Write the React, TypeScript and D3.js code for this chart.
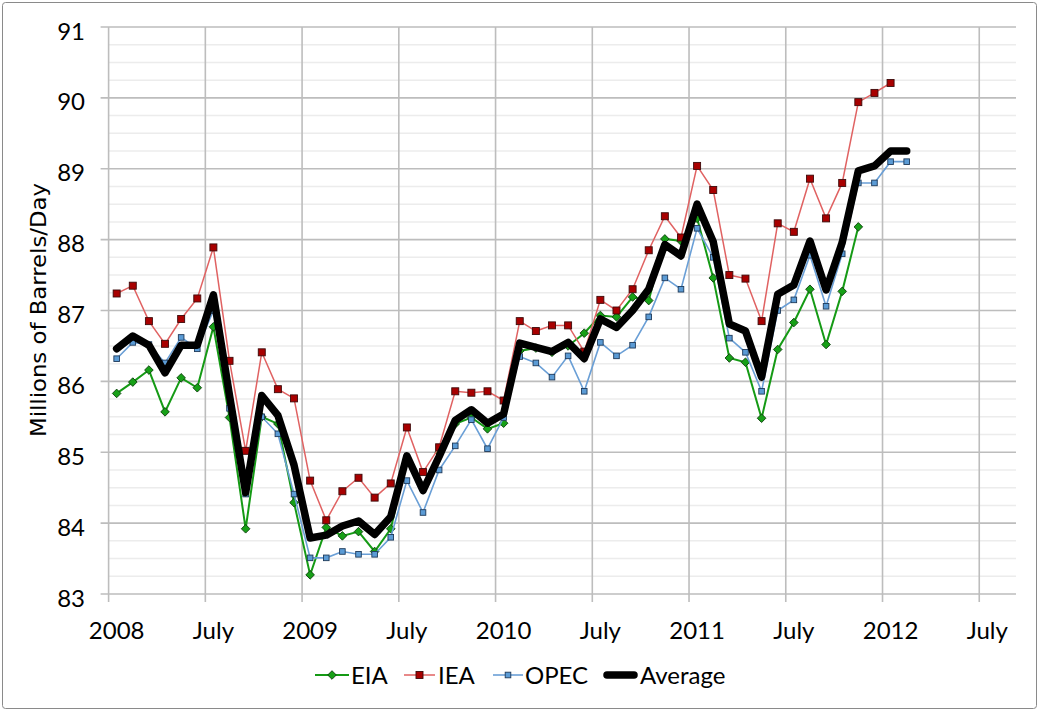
import React from "react";
import * as d3 from "d3";

// Monthly values, Jan 2008 .. Feb 2012 (null = no data)
const eia: (number | null)[] = [
  85.83, 85.99, 86.16, 85.57, 86.05, 85.91, 86.77, 85.49, 83.92, 85.5, 85.4, 84.29,
  83.27, 83.94, 83.82, 83.88, 83.6, 83.92, 84.9, 84.51, 85.0, 85.4, 85.49, 85.33,
  85.41, 86.43, 86.47, 86.41, 86.5, 86.68, 86.93, 86.91, 87.19, 87.14, 88.01, 87.98,
  88.3, 87.46, 86.33, 86.27, 85.48, 86.45, 86.83, 87.3, 86.52, 87.27, 88.18, null,
  null, null,
];
const iea: (number | null)[] = [
  87.24, 87.35, 86.85, 86.53, 86.88, 87.17, 87.89, 86.29, 85.02, 86.41, 85.89, 85.76,
  84.6, 84.04, 84.45, 84.64, 84.36, 84.56, 85.35, 84.72, 85.07, 85.86, 85.84, 85.86,
  85.73, 86.85, 86.71, 86.79, 86.79, 86.42, 87.15, 87.0, 87.3, 87.85, 88.33, 88.03,
  89.04, 88.7, 87.5, 87.45, 86.85, 88.23, 88.11, 88.86, 88.3, 88.8, 89.94, 90.07,
  90.21, null,
];
const opec: (number | null)[] = [
  86.32, 86.55, 86.52, 86.26, 86.62, 86.46, 87.0, 85.62, 84.41, 85.5, 85.26, 84.41,
  83.51, 83.51, 83.6, 83.56, 83.56, 83.8, 84.6, 84.15, 84.75, 85.09, 85.46, 85.05,
  85.49, 86.35, 86.26, 86.06, 86.36, 85.86, 86.55, 86.36, 86.51, 86.91, 87.46, 87.3,
  88.16, 87.75, 86.61, 86.41, 85.86, 87.0, 87.15, 87.78, 87.06, 87.8, 88.8, 88.8,
  89.1, 89.1,
];
const average: (number | null)[] = [
  86.46, 86.64, 86.51, 86.12, 86.51, 86.51, 87.22, 85.8, 84.43, 85.8, 85.52, 84.82,
  83.79, 83.83, 83.96, 84.03, 83.84, 84.09, 84.95, 84.46, 84.94, 85.45, 85.6, 85.41,
  85.54, 86.54, 86.48, 86.42, 86.55, 86.32, 86.88, 86.76, 87.0, 87.3, 87.93, 87.77,
  88.5, 87.97, 86.81, 86.71, 86.06, 87.23, 87.36, 87.98, 87.29, 87.96, 88.97, 89.04,
  89.25, 89.25,
];
const xTickMonths = [0, 6, 12, 18, 24, 30, 36, 42, 48, 54];
const xTickLabels = ["2008", "July", "2009", "July", "2010", "July", "2011", "July", "2012", "July"];
const yTicks = [83, 84, 85, 86, 87, 88, 89, 90, 91];
const legendNames = ["EIA", "IEA", "OPEC", "Average"];

const W = 1039;
const H = 711;
const left = 108.6;
const right = 1011.5;
const gridRight = 1016;
const top = 27;
const bottom = 594;
const FONT = "Lato, 'Open Sans', sans-serif";

const x = d3.scaleLinear().domain([0, 56]).range([left, right]);
const y = d3.scaleLinear().domain([83, 91]).range([bottom, top]);

type Pt = [number, number | null];
const toPts = (arr: (number | null)[]): Pt[] => arr.map((v, i) => [i, v]);
const line = d3
  .line<Pt>()
  .defined((d) => d[1] !== null)
  .x((d) => x(d[0] + 0.5))
  .y((d) => y(d[1] as number));

const diamond = (cx: number, cy: number, r: number) =>
  `M${cx},${cy - r}L${cx + r},${cy}L${cx},${cy + r}L${cx - r},${cy}Z`;

export default function App() {
  const minor: number[] = [];
  for (let v = 83; v < 91; v += 0.25) if (Math.abs(v - Math.round(v)) > 1e-6) minor.push(v);

  const eiaPts = toPts(eia);
  const ieaPts = toPts(iea);
  const opecPts = toPts(opec);
  const avgPts = toPts(average);

  const legendY = 675;
  const legendItems = [
    { x1: 315, x2: 349, tx: 351 },
    { x1: 404, x2: 435, tx: 438 },
    { x1: 493, x2: 523, tx: 525 },
    { x1: 604, x2: 637, tx: 640 },
  ];

  return (
    <svg
      width={W}
      height={H}
      style={{ position: "absolute", left: 0, top: 0, background: "#fff" }}
    >
      <rect x={0} y={0} width={W} height={H} fill="#fff" />
      <rect x={2.5} y={2.5} width={W - 5} height={H - 5} rx={3} fill="none" stroke="#8a8a8a" strokeWidth={1} />

      {/* minor gridlines */}
      {minor.map((v) => (
        <line key={"m" + v} x1={left} x2={gridRight} y1={y(v)} y2={y(v)} stroke="#ececec" strokeWidth={1.5} />
      ))}
      {/* major horizontal gridlines with ticks */}
      {yTicks.map((v) => (
        <line key={"h" + v} x1={left - 8} x2={gridRight} y1={y(v)} y2={y(v)} stroke="#bdbdbd" strokeWidth={1.6} />
      ))}
      {/* vertical gridlines */}
      {xTickMonths.map((m) => (
        <line key={"v" + m} x1={x(m)} x2={x(m)} y1={top} y2={bottom + 8} stroke="#bdbdbd" strokeWidth={1.6} />
      ))}

      {/* y tick labels */}
      {yTicks.map((v) => (
        <text
          key={"yl" + v}
          x={85}
          y={y(v) + 3}
          textAnchor="end"
          dominantBaseline="central"
          fontFamily={FONT}
          fontSize={24}
          fill="#000"
        >
          {v}
        </text>
      ))}
      {/* x tick labels */}
      {xTickMonths.map((m, i) => (
        <text
          key={"xl" + m}
          x={x(m + 0.5)}
          y={639}
          textAnchor="middle"
          fontFamily={FONT}
          fontSize={24}
          fill="#000"
        >
          {xTickLabels[i]}
        </text>
      ))}

      {/* y axis title */}
      <text
        transform={`translate(46,310) rotate(-90)`}
        textAnchor="middle"
        fontFamily="'DejaVu Sans', Verdana, sans-serif"
        fontSize={22}
        textLength={254}
        lengthAdjust="spacingAndGlyphs"
        fill="#000"
      >
        Millions of Barrels/Day
      </text>

      {/* EIA */}
      <path d={line(eiaPts) || ""} fill="none" stroke="#159a15" strokeWidth={2} />
      {eiaPts
        .filter((d) => d[1] !== null)
        .map((d) => (
          <path
            key={"e" + d[0]}
            d={diamond(x(d[0] + 0.5), y(d[1] as number), 4.3)}
            fill="#17a017"
            stroke="#0b3d0b"
            strokeWidth={0.9}
          />
        ))}

      {/* IEA */}
      <path d={line(ieaPts) || ""} fill="none" stroke="#e06262" strokeWidth={1.5} />
      {ieaPts
        .filter((d) => d[1] !== null)
        .map((d) => (
          <rect
            key={"i" + d[0]}
            x={x(d[0] + 0.5) - 3.5}
            y={y(d[1] as number) - 3.5}
            width={7}
            height={7}
            fill="#a80000"
            stroke="#3d0a0a"
            strokeWidth={0.9}
          />
        ))}

      {/* OPEC */}
      <path d={line(opecPts) || ""} fill="none" stroke="#6a9fd6" strokeWidth={1.6} />
      {opecPts
        .filter((d) => d[1] !== null)
        .map((d) => (
          <rect
            key={"o" + d[0]}
            x={x(d[0] + 0.5) - 2.8}
            y={y(d[1] as number) - 2.8}
            width={5.6}
            height={5.6}
            fill="#5b9bd5"
            stroke="#1e3a5a"
            strokeWidth={0.9}
          />
        ))}

      {/* Average */}
      <path
        d={line(avgPts) || ""}
        fill="none"
        stroke="#000"
        strokeWidth={7.5}
        strokeLinejoin="round"
        strokeLinecap="round"
      />

      {/* legend */}
      <g>
        <line x1={legendItems[0].x1} x2={legendItems[0].x2} y1={legendY} y2={legendY} stroke="#159a15" strokeWidth={2} />
        <path d={diamond((legendItems[0].x1 + legendItems[0].x2) / 2, legendY, 4.3)} fill="#17a017" stroke="#0b3d0b" strokeWidth={0.9} />
        <line x1={legendItems[1].x1} x2={legendItems[1].x2} y1={legendY} y2={legendY} stroke="#e06262" strokeWidth={1.5} />
        <rect
          x={(legendItems[1].x1 + legendItems[1].x2) / 2 - 3.5}
          y={legendY - 3.5}
          width={7}
          height={7}
          fill="#a80000"
          stroke="#3d0a0a"
          strokeWidth={0.9}
        />
        <line x1={legendItems[2].x1} x2={legendItems[2].x2} y1={legendY} y2={legendY} stroke="#6a9fd6" strokeWidth={1.6} />
        <rect
          x={(legendItems[2].x1 + legendItems[2].x2) / 2 - 2.8}
          y={legendY - 2.8}
          width={5.6}
          height={5.6}
          fill="#5b9bd5"
          stroke="#1e3a5a"
          strokeWidth={0.9}
        />
        <line
          x1={legendItems[3].x1 + 3}
          x2={legendItems[3].x2 - 3}
          y1={legendY}
          y2={legendY}
          stroke="#000"
          strokeWidth={7.5}
          strokeLinecap="round"
        />
        {legendNames.map((n, i) => (
          <text
            key={"lg" + n}
            x={legendItems[i].tx}
            y={legendY + 8.5}
            fontFamily={FONT}
            fontSize={24}
            fill="#000"
          >
            {n}
          </text>
        ))}
      </g>
    </svg>
  );
}
